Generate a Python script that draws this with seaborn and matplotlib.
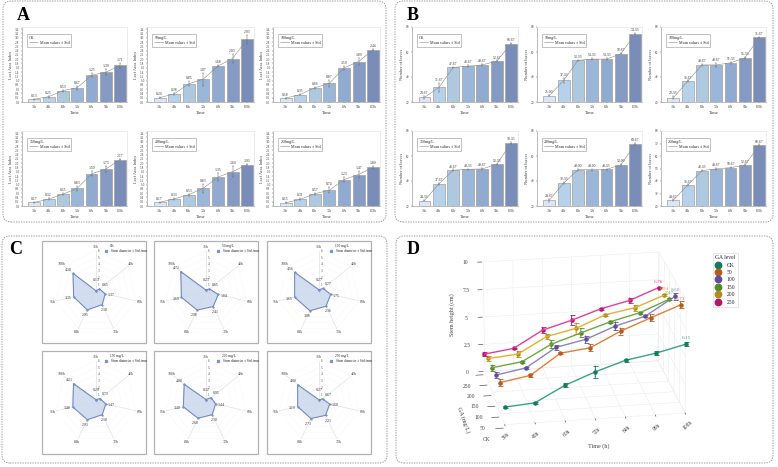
import numpy as np
import pandas as pd
import seaborn as sns
import matplotlib
matplotlib.use("Agg")
import matplotlib.pyplot as plt
from matplotlib.lines import Line2D
from matplotlib.patches import FancyBboxPatch, Rectangle
from mpl_toolkits.mplot3d import proj3d

sns.set_theme(style="white")
plt.rcParams["font.family"] = ["Liberation Serif", "DejaVu Sans"]
plt.rcParams["grid.color"] = "#ececec"
plt.rcParams["grid.linewidth"] = 0.4

W, H = 778, 467
TIMES = ["36h", "48h", "60h", "72h", "84h", "96h", "108h"]
LEVELS = ["CK", "50mg/L", "100mg/L", "150mg/L", "200mg/L", "250mg/L"]
LEVELS_SPACED = ["CK", "50 mg/L", "100 mg/L", "150 mg/L", "200 mg/L", "250 mg/L"]
GA_TICKS = ["CK", "50", "100", "150", "200", "250"]

# Leaf area index
LAI_CK = [0.13, 0.25, 0.53, 0.67, 1.25, 1.39, 1.71]
LAI_50 = [0.20, 0.38, 0.85, 1.07, 1.68, 2.03, 2.93]
LAI_100 = [0.18, 0.35, 0.66, 0.87, 1.59, 1.89, 2.44]
LAI_150 = [0.17, 0.32, 0.55, 0.83, 1.50, 1.73, 2.17]
LAI_200 = [0.17, 0.33, 0.53, 0.83, 1.35, 1.60, 1.93]
LAI_250 = [0.15, 0.31, 0.57, 0.74, 1.23, 1.47, 1.80]
LAI_SD_CK = [0.02, 0.04, 0.04, 0.10, 0.10, 0.14, 0.10]
LAI_SD_50 = [0.03, 0.05, 0.12, 0.30, 0.06, 0.20, 0.22]
LAI_SD_100 = [0.02, 0.03, 0.05, 0.15, 0.10, 0.18, 0.05]
LAI_SD_150 = [0.02, 0.04, 0.04, 0.12, 0.12, 0.14, 0.04]
LAI_SD_200 = [0.02, 0.03, 0.05, 0.20, 0.18, 0.25, 0.03]
LAI_SD_250 = [0.02, 0.05, 0.05, 0.14, 0.12, 0.15, 0.06]

# Number of leaves
LEAF_CK = [23.67, 31.67, 47.67, 48.67, 49.67, 52.67, 66.67]
LEAF_50 = [25.00, 37.33, 53.33, 54.33, 54.33, 58.67, 74.33]
LEAF_100 = [23.33, 36.67, 49.67, 49.67, 51.33, 55.33, 71.67]
LEAF_150 = [24.33, 37.67, 48.67, 49.33, 49.67, 53.33, 70.33]
LEAF_200 = [24.67, 38.33, 49.00, 49.00, 49.33, 53.00, 69.67]
LEAF_250 = [24.67, 36.67, 48.33, 49.67, 50.67, 52.67, 68.67]
LEAF_SD_CK = [1.2, 3.5, 0.6, 0.9, 0.6, 0.6, 0.6]
LEAF_SD_50 = [0.5, 2.0, 0.6, 0.6, 0.6, 0.6, 0.6]
LEAF_SD_100 = [1.2, 0.6, 0.6, 1.5, 0.6, 0.6, 0.6]
LEAF_SD_150 = [0.6, 0.6, 0.6, 0.6, 0.6, 0.6, 0.6]
LEAF_SD_200 = [1.2, 0.6, 0.6, 0.6, 0.6, 0.6, 0.6]
LEAF_SD_250 = [0.6, 0.6, 0.6, 0.6, 0.6, 0.6, 0.6]

# Stem diameter, one radar per level
DIAM_CK = [0.13, 0.65, 1.37, 2.10, 2.95, 3.35, 4.30]
DIAM_50 = [0.23, 0.65, 1.84, 2.41, 2.98, 3.69, 4.72]
DIAM_100 = [0.27, 0.77, 1.75, 2.36, 3.08, 3.65, 4.56]
DIAM_150 = [0.29, 0.73, 1.47, 2.10, 2.93, 3.48, 4.21]
DIAM_200 = [0.32, 0.95, 1.44, 2.10, 2.68, 3.40, 4.08]
DIAM_250 = [0.27, 0.67, 1.60, 2.21, 2.73, 3.19, 4.00]

# Stem height by level and time
STEM_CK = [1.56, 1.77, 3.17, 4.19, 5.05, 5.51, 6.15]
STEM_50 = [2.79, 3.26, 5.07, 5.40, 6.71, 7.73, 8.73]
STEM_100 = [2.51, 2.99, 4.66, 5.22, 6.26, 6.98, 8.60]
STEM_150 = [2.23, 2.60, 4.03, 4.89, 5.74, 6.40, 7.47]
STEM_200 = [2.13, 2.36, 3.82, 4.40, 5.48, 5.95, 6.94]
STEM_250 = [1.60, 1.96, 3.48, 4.23, 5.12, 5.74, 6.76]
STEM_SD_CK = [0.08, 0.08, 0.20, 0.55, 0.12, 0.18, 0.20]
STEM_SD_50 = [0.30, 0.15, 0.08, 0.30, 0.30, 0.30, 0.30]
STEM_SD_100 = [0.25, 0.12, 0.20, 0.35, 0.40, 0.08, 0.30]
STEM_SD_150 = [0.28, 0.08, 0.35, 0.40, 0.08, 0.08, 0.08]
STEM_SD_200 = [0.25, 0.30, 0.20, 0.50, 0.08, 0.25, 0.08]
STEM_SD_250 = [0.20, 0.08, 0.25, 0.45, 0.08, 0.25, 0.08]

LAI = [LAI_CK, LAI_50, LAI_100, LAI_150, LAI_200, LAI_250]
LAI_SD = [LAI_SD_CK, LAI_SD_50, LAI_SD_100, LAI_SD_150, LAI_SD_200, LAI_SD_250]
LEAF = [LEAF_CK, LEAF_50, LEAF_100, LEAF_150, LEAF_200, LEAF_250]
LEAF_SD = [LEAF_SD_CK, LEAF_SD_50, LEAF_SD_100, LEAF_SD_150, LEAF_SD_200, LEAF_SD_250]
DIAM = [DIAM_CK, DIAM_50, DIAM_100, DIAM_150, DIAM_200, DIAM_250]
STEM = [STEM_CK, STEM_50, STEM_100, STEM_150, STEM_200, STEM_250]
STEM_SD = [STEM_SD_CK, STEM_SD_50, STEM_SD_100, STEM_SD_150, STEM_SD_200, STEM_SD_250]

BAR_COLORS = ["#d8e7f9", "#aed1f4", "#a6c8e8", "#8fb5e3", "#86aad9", "#7b97cf", "#6f89c2"]
GREY_TEXT = "#444444"

fig = plt.figure(figsize=(W / 100, H / 100), dpi=100, facecolor="white")


def add_axes_px(left, top, right, bottom, **kw):
    return fig.add_axes([left / W, 1 - bottom / H, (right - left) / W, (bottom - top) / H], **kw)


def text_px(x, y, s, **kw):
    kw.setdefault("ha", "center")
    kw.setdefault("va", "center")
    fig.text(x / W, 1 - y / H, s, **kw)


def draw_bar_panel(pos, title, values, errors, ylabel, ylim, yticks, fmt):
    ax = add_axes_px(*pos)
    frame = pd.DataFrame({"time": TIMES, "value": values})
    sns.barplot(data=frame, x="time", y="value", hue="time", palette=BAR_COLORS,
                legend=False, width=0.82, edgecolor="#a0a0a0", linewidth=0.5, ax=ax)
    ax.errorbar(range(7), values, yerr=errors, color="#666666", lw=0.35,
                capsize=0.7, capthick=0.3, fmt="none", zorder=4)
    ax.plot(range(7), values, color="#8a8a8a", lw=0.4, zorder=4)
    for i, v in enumerate(values):
        ax.text(i, v + errors[i] + (ylim[1] - ylim[0]) * 0.012, fmt % v, ha="center", va="bottom",
                fontsize=2.7, color="#333333")
    ax.set_xlim(-0.86, 6.47)
    ax.set_ylim(*ylim)
    ax.set_yticks(yticks)
    ax.set_yticklabels([("%.1f" % t if ylim[1] < 10 else "%d" % t) for t in yticks])
    ax.tick_params(axis="both", labelsize=2.4, length=1, width=0.3, pad=0.8, colors="#444444",
                   bottom=True, left=True)
    ax.set_xlabel("Time", fontsize=3.4, labelpad=2, color=GREY_TEXT)
    ax.set_ylabel(ylabel, fontsize=3.2, labelpad=1.5, color=GREY_TEXT)
    for side in ("left", "bottom"):
        ax.spines[side].set_color("#888888")
        ax.spines[side].set_linewidth(0.4)
    for side in ("top", "right"):
        ax.spines[side].set_color("#dedede")
        ax.spines[side].set_linewidth(0.4)
    leg = ax.legend(handles=[Line2D([], [], color="#8a8a8a", lw=0.4)], labels=["Mean values ± Std"],
                    title=title, loc="upper left", bbox_to_anchor=(0.05, 0.91), fontsize=2.9,
                    title_fontsize=2.9, alignment="left", frameon=True, fancybox=False,
                    edgecolor="#aaaaaa", framealpha=1, borderpad=0.5, handlelength=2.2,
                    handletextpad=0.4, labelspacing=0.2, borderaxespad=0)
    leg.get_frame().set_linewidth(0.5)
    for t in leg.get_texts():
        t.set_color("#222222")
    leg.get_title().set_color("#222222")
    return ax


COL_A = [(22, 127), (147, 254), (273, 380)]
COL_B = [(412, 518), (537, 642), (661, 766)]
ROWS_AB = [(27, 102), (131, 206)]
LAI_TICKS = np.arange(0, 3.41, 0.2)

for k in range(6):
    row, col = k // 3, k % 3
    draw_bar_panel((COL_A[col][0], ROWS_AB[row][0], COL_A[col][1], ROWS_AB[row][1]),
                   LEVELS[k], LAI[k], LAI_SD[k], "Leaf Area Index", (0, 3.5), LAI_TICKS, "%.2f")
    ticks = [20, 40, 60, 80] if k < 5 else [20, 30, 40, 50, 60, 70, 80]
    draw_bar_panel((COL_B[col][0], ROWS_AB[row][0], COL_B[col][1], ROWS_AB[row][1]),
                   LEVELS[k], LEAF[k], LEAF_SD[k], "Number of leaves", (20, 80), ticks, "%.2f")

# Radar panels
FRAME_X = [(42, 146), (154, 258), (267, 371)]
FRAME_Y = [(241, 343), (351, 454)]
CENTER_X = [96, 206, 319]
CENTER_Y = [291.7, 401.7]
RADIUS = 41
THETA = np.linspace(0, 2 * np.pi, 7, endpoint=False)

for k in range(6):
    row, col = k // 3, k % 3
    x0, x1 = FRAME_X[col]
    y0, y1 = FRAME_Y[row]
    fig.add_artist(Rectangle((x0 / W, 1 - y1 / H), (x1 - x0) / W, (y1 - y0) / H,
                             transform=fig.transFigure, fc="white", ec="#b2b2b2", lw=0.9, zorder=0))
    cx, cy = CENTER_X[col], CENTER_Y[row]
    ax = add_axes_px(cx - RADIUS, cy - RADIUS, cx + RADIUS, cy + RADIUS, projection="polar")
    ax.set_theta_zero_location("N")
    ax.set_theta_direction(-1)
    ax.set_ylim(0, 6)
    ax.patch.set_alpha(0)
    ax.grid(False)
    ax.set_xticks([])
    ax.set_yticks([])
    ax.spines["polar"].set_visible(False)
    loop = np.append(THETA, THETA[0])
    for r in range(1, 7):
        ax.plot(loop, [r] * 8, color="#f0f0f0", lw=0.3, ls=(0, (2, 1.5)), clip_on=False)
    for th in THETA:
        ax.plot([th, th], [0, 6], color="#e2e2e2", lw=0.5, clip_on=False)
    vals = DIAM[k]
    closed = vals + vals[:1]
    ax.fill(loop, closed, color="#cbd8ee", alpha=0.85, zorder=3)
    ax.plot(loop, closed, color="#6f86b8", lw=0.7, marker="o", ms=1.2, mfc="#7f95c9", mec="#6f86b8",
            mew=0.3, zorder=4)
    for r in range(1, 7):
        ax.annotate(str(r), xy=(0, r), xytext=(2.2, 0), textcoords="offset points", fontsize=2.4,
                    color="#444444", ha="center", va="center", annotation_clip=False)
    for i, th in enumerate(THETA):
        ax.text(th, 6.5, TIMES[i], fontsize=2.8, color="#444444", ha="center", va="center")
        label_r = 1.7 if i == 0 else (vals[i] + (0.85 if i > 1 else 1.0))
        ax.text(th, label_r, "%.2f" % vals[i], fontsize=2.8, color="#333333", ha="center", va="center",
                zorder=5)
    text_px(x0 + 68, y0 + 5, LEVELS_SPACED[k], fontsize=2.5, ha="left", color="#222222")
    text_px(x0 + 69, y0 + 10, "Stem diameter ± Std /mm", fontsize=2.5, ha="left", color="#222222")
    fig.add_artist(Line2D([(x0 + 64) / W], [1 - (y0 + 10) / H], marker="s", ms=1.4, color="#7f95c9", lw=0,
                          transform=fig.transFigure))

# Stem height in three dimensions
LINE_COLORS = ["#35a583", "#e2803a", "#8a86bd", "#6fa83c", "#e3b030", "#e0409a"]
MARK_COLORS = ["#177a5e", "#b85a1c", "#5f4f99", "#558a2a", "#b58a15", "#b8146d"]

ax3 = add_axes_px(410, 220, 750, 460, projection="3d")
ax3.patch.set_alpha(0)
ax3.view_init(elev=21, azim=-99.5, roll=0)
ax3.set_proj_type("persp", focal_length=2.5)
ax3.set_box_aspect((182, 145, 120), zoom=1.05)
ax3.set_xlim(0, 6, view_margin=0)
ax3.set_ylim(0, 5, view_margin=0)
ax3.set_zlim(0, 10, view_margin=0)
ax3.set_xticks(range(7))
ax3.set_yticks(range(6))
ax3.set_zticks([0, 2.5, 5, 7.5, 10])
ax3.set_xticklabels([])
ax3.set_yticklabels([])
ax3.set_zticklabels([])
for axis in (ax3.xaxis, ax3.yaxis, ax3.zaxis):
    axis.set_pane_color((1, 1, 1, 0))
    axis.pane.set_edgecolor("#ececec")
    axis.line.set_color((1, 1, 1, 0))
ax3.tick_params(axis="both", color=(1, 1, 1, 0), length=0)


def label_3d(x, y, z, s, **kw):
    # Place text at the projected position of a data point
    px, py, _ = proj3d.proj_transform(x, y, z, ax3.get_proj())
    kw.setdefault("ha", "center")
    kw.setdefault("va", "center")
    ax3.text2D(px, py, s, transform=ax3.transData, **kw)


for i in range(7):
    ax3.plot([i, i], [0, -0.12], [0, 0], color="#555555", lw=0.5)
    label_3d(i - 0.1, -0.95, -0.1, TIMES[i], fontsize=4, color=GREY_TEXT, rotation=42)
for k in range(6):
    ax3.plot([-0.05, -0.3], [k, k], [-0.3, -0.3], color="#555555", lw=0.5)
    label_3d(-0.6, k, -1.25, GA_TICKS[k], fontsize=4, color=GREY_TEXT)
for z in [0, 2.5, 5, 7.5, 10]:
    ax3.plot([-0.05, -0.2], [5, 5], [z, z], color="#555555", lw=0.5)
    label_3d(-0.6, 5, z, "%g" % z, fontsize=4, color=GREY_TEXT)

for k in range(6):
    ax3.plot(range(7), [k] * 7, STEM[k], color=LINE_COLORS[k], lw=1.0, zorder=5 + k)
    ax3.errorbar(range(7), [k] * 7, STEM[k], zerr=STEM_SD[k], fmt="none", ecolor=MARK_COLORS[k],
                 elinewidth=0.7, capsize=1.8, capthick=0.6, zorder=6 + k)
    ax3.scatter(range(7), [k] * 7, STEM[k], color=MARK_COLORS[k], s=5, depthshade=False, zorder=7 + k)
    label_3d(6, k, STEM[k][-1] + 0.55, "%.2f" % STEM[k][-1], fontsize=3.8, color=LINE_COLORS[k], zorder=20)

text_px(452, 315, "Stem height (cm)", fontsize=4.4, rotation=90, color=GREY_TEXT)
text_px(463, 420, "GA (mg/L)", fontsize=4.4, rotation=-70, color=GREY_TEXT)
text_px(599, 446, "Time (h)", fontsize=4.4, color=GREY_TEXT)

handles = [Line2D([], [], marker="o", lw=0, ms=4.6, color=c) for c in MARK_COLORS]
leg = fig.legend(handles, GA_TICKS, title="GA level", loc="upper left",
                 bbox_to_anchor=(713 / W, 1 - 253 / H), fontsize=4.1, title_fontsize=4.1,
                 frameon=True, fancybox=False, edgecolor="#dddddd", framealpha=1,
                 borderpad=0.4, labelspacing=0.42, handletextpad=0.9, handlelength=1.0, borderaxespad=0)
leg.get_frame().set_linewidth(0.5)

# Dashed rounded outlines and panel letters
for left, top, right, bottom in [(3, 1, 386, 222), (395, 1, 773, 222), (2, 236, 387, 463), (396, 236, 773, 463)]:
    fig.add_artist(FancyBboxPatch((left / 100, (H - bottom) / 100), (right - left) / 100, (bottom - top) / 100,
                                  boxstyle="round,pad=0,rounding_size=0.08", transform=fig.dpi_scale_trans,
                                  fc="none", ec="#8a8a8a", lw=0.6, ls=(0, (1.6, 1.4))))
for x, y, s in [(23, 15, "A"), (413, 15, "B"), (16, 249, "C"), (413, 249, "D")]:
    text_px(x, y, s, fontsize=13, fontweight="bold", color="black")

fig.savefig("out.png", dpi=100)
